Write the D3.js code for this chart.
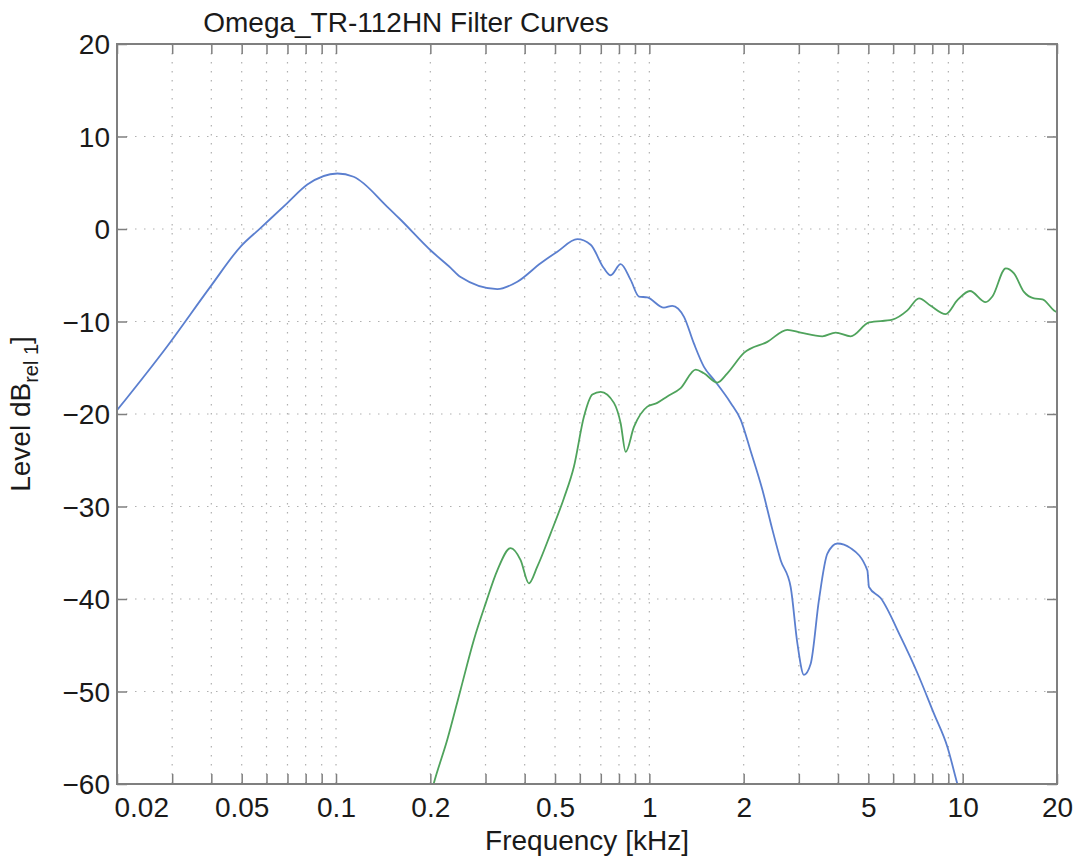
<!DOCTYPE html>
<html>
<head>
<meta charset="utf-8">
<script src="https://d3js.org/d3.v7.min.js"></script>
<style>
  body { margin: 0; background: #fff; }
  text { font-family: "Liberation Sans", Arial, Helvetica, sans-serif; fill: #1a1a1a; }
</style>
</head>
<body>
<script>
// curve data (frequency in kHz, level in dB)
var blueFreq = [0.02, 0.0289, 0.0398, 0.0496, 0.0574, 0.0699, 0.081, 0.101, 0.1138, 0.1458,
  0.1608, 0.2003, 0.2322, 0.2498, 0.3272, 0.379, 0.4498, 0.5085, 0.589, 0.6497,
  0.7163, 0.7524, 0.8099, 0.8716, 0.9264, 0.9854, 1.113, 1.184, 1.29, 1.388,
  1.494, 1.608, 1.818, 1.956, 2.105, 2.295, 2.47, 2.625, 2.825, 2.968,
  3.115, 3.273, 3.478, 3.7, 3.982, 4.389, 4.964, 5.023, 5.473, 6.341,
  7.169, 8.097, 8.939, 9.618, 10.3];
var blueDb = [-19.6, -12.7, -6.2, -1.9, 0.1, 2.8, 4.8, 6.0, 5.65, 2.4,
  1.0, -2.3, -4.2, -5.2, -6.5, -5.7, -3.7, -2.45, -1.1, -1.7,
  -4.25, -5.0, -3.8, -5.5, -7.3, -7.4, -8.5, -8.3, -9.5, -12.4,
  -14.9, -16.3, -18.8, -20.6, -24.0, -28.2, -32.5, -35.8, -38.7, -44.8,
  -48.2, -47.0, -40.1, -35.1, -34.0, -34.5, -36.9, -38.7, -39.9, -44.1,
  -48.0, -52.4, -56.0, -60.0, -63.5];

var greenFreq = [0.19, 0.2053, 0.2266, 0.2498, 0.2755, 0.3002, 0.3272, 0.3608, 0.3883, 0.4126,
  0.4389, 0.4842, 0.5338, 0.5744, 0.6183, 0.6578, 0.6993, 0.7709, 0.8099, 0.8404,
  0.893, 0.9854, 1.06, 1.141, 1.259, 1.406, 1.494, 1.648, 1.774, 2.004,
  2.38, 2.757, 3.041, 3.566, 3.932, 4.389, 5.023, 5.966, 6.661, 7.254,
  7.905, 8.826, 9.618, 10.55, 11.84, 12.44, 13.72, 14.58, 15.69, 16.89,
  17.97, 19.56, 20];
var greenDb = [-64.5, -59.9, -55.2, -49.8, -44.4, -40.5, -36.9, -34.5, -35.8, -38.3,
  -36.5, -32.9, -29.1, -25.7, -20.3, -17.9, -17.6, -18.8, -21.0, -24.1,
  -21.4, -19.2, -18.8, -18.1, -17.2, -15.2, -15.6, -16.6, -15.6, -13.4,
  -12.2, -10.9, -11.2, -11.6, -11.2, -11.6, -10.1, -9.8, -8.8, -7.5,
  -8.3, -9.2, -7.7, -6.7, -7.9, -7.3, -4.25, -4.8, -6.8, -7.5,
  -7.6, -8.8, -9.0];

var xLabelTicks = [0.02, 0.05, 0.1, 0.2, 0.5, 1, 2, 5, 10, 20];
var yTicks = [-60, -50, -40, -30, -20, -10, 0, 10, 20];

var W = 1076, H = 862;
var margin = {top: 44, right: 19, bottom: 78, left: 117};
var width = W - margin.left - margin.right,
    height = H - margin.top - margin.bottom;

var axisColor = "#7f7f7f";
var gridColor = "#b0b0b0";
var blueColor = "#5b7fcf";
var greenColor = "#4fa35c";
var fontSize = 28;

var svg = d3.select("body").append("svg")
    .attr("width", W)
    .attr("height", H);

var g = svg.append("g")
    .attr("transform", "translate(" + margin.left + "," + margin.top + ")");

var x = d3.scaleLog().domain([0.02, 20]).range([0, width]);
var y = d3.scaleLinear().domain([-60, 20]).range([height, 0]);

var xTicks = x.ticks();

// grid
g.append("g").selectAll("line")
    .data(xTicks.filter(function (d) { return d > 0.02 && d < 20; }))
    .enter().append("line")
    .attr("x1", function (d) { return x(d); })
    .attr("x2", function (d) { return x(d); })
    .attr("y1", 0).attr("y2", height)
    .attr("stroke", gridColor)
    .attr("stroke-width", 1.2)
    .attr("stroke-dasharray", "1.5,7.5");

g.append("g").selectAll("line")
    .data(yTicks.filter(function (d) { return d > -60 && d < 20; }))
    .enter().append("line")
    .attr("x1", 0).attr("x2", width)
    .attr("y1", function (d) { return y(d); })
    .attr("y2", function (d) { return y(d); })
    .attr("stroke", gridColor)
    .attr("stroke-width", 1.2)
    .attr("stroke-dasharray", "1.5,7.5");

// curves
g.append("clipPath").attr("id", "clip")
    .append("rect").attr("width", width).attr("height", height);

var line = d3.line()
    .x(function (d) { return x(d[0]); })
    .y(function (d) { return y(d[1]); })
    .curve(d3.curveMonotoneX);

g.append("path")
    .datum(d3.zip(blueFreq, blueDb))
    .attr("clip-path", "url(#clip)")
    .attr("fill", "none")
    .attr("stroke", blueColor)
    .attr("stroke-width", 1.8)
    .attr("d", line);

g.append("path")
    .datum(d3.zip(greenFreq, greenDb))
    .attr("clip-path", "url(#clip)")
    .attr("fill", "none")
    .attr("stroke", greenColor)
    .attr("stroke-width", 1.8)
    .attr("d", line);

// axes (box with ticks on all four sides)
var tickLen = 10;
var fmt = d3.format("");

var xBottom = g.append("g")
    .attr("transform", "translate(0," + height + ")")
    .call(d3.axisBottom(x).tickValues(xTicks).tickSizeInner(-tickLen).tickSizeOuter(0)
        .tickFormat(function (d) { return xLabelTicks.indexOf(+d.toPrecision(3)) >= 0 ? fmt(+d.toPrecision(3)) : ""; }));
var xTop = g.append("g")
    .call(d3.axisTop(x).tickValues(xTicks).tickSizeInner(-tickLen).tickSizeOuter(0).tickFormat(""));
var yLeft = g.append("g")
    .call(d3.axisLeft(y).tickValues(yTicks).tickSizeInner(-tickLen).tickSizeOuter(0));
var yRight = g.append("g")
    .attr("transform", "translate(" + width + ",0)")
    .call(d3.axisRight(y).tickValues(yTicks).tickSizeInner(-tickLen).tickSizeOuter(0).tickFormat(""));

[xBottom, xTop, yLeft, yRight].forEach(function (a) {
    a.select(".domain").remove();
    a.selectAll(".tick line").attr("stroke", axisColor).attr("stroke-width", 1.5);
    a.selectAll("text").attr("font-size", fontSize)
        .attr("font-family", "'Liberation Sans', Arial, Helvetica, sans-serif")
        .attr("fill", "#1a1a1a");
});

xBottom.selectAll(".tick text").attr("y", 13).attr("dy", "0.71em");
// first label sits inside the left edge
xBottom.selectAll(".tick text").filter(function (d) { return Math.abs(d - 0.02) < 1e-9; })
    .attr("text-anchor", "start").attr("x", -3);
yLeft.selectAll(".tick text").attr("x", -7).attr("dy", "0.35em");

g.append("rect")
    .attr("width", width).attr("height", height)
    .attr("fill", "none")
    .attr("stroke", axisColor)
    .attr("stroke-width", 2);

// titles
svg.append("text")
    .attr("x", 406).attr("y", 32)
    .attr("text-anchor", "middle")
    .attr("font-size", fontSize)
    .text("Omega_TR-112HN Filter Curves");

svg.append("text")
    .attr("x", margin.left + width / 2).attr("y", 850)
    .attr("text-anchor", "middle")
    .attr("font-size", fontSize)
    .text("Frequency [kHz]");

var yl = svg.append("text")
    .attr("transform", "translate(30," + (margin.top + height / 2) + ") rotate(-90)")
    .attr("text-anchor", "middle")
    .attr("font-size", fontSize);
yl.append("tspan").text("Level dB");
yl.append("tspan").attr("font-size", 20).attr("dy", 8).text("rel 1");
yl.append("tspan").attr("dy", -8).text("]");
</script>
</body>
</html>
